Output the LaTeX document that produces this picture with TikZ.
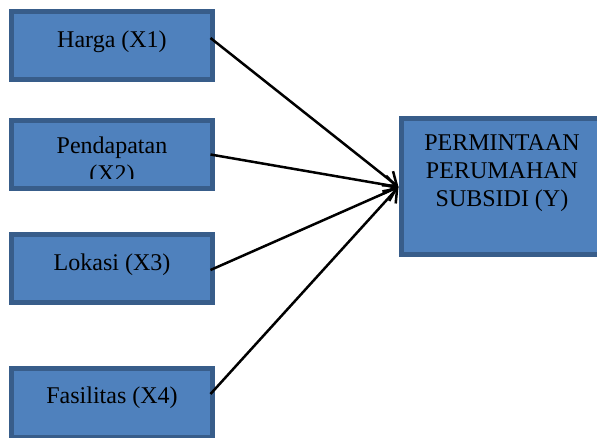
\documentclass[tikz,border=0pt]{standalone}
\usepackage{fontspec}
\setmainfont{Liberation Serif}
\usetikzlibrary{arrows.meta,calc}
\definecolor{boxfill}{HTML}{4F81BD}
\definecolor{boxline}{HTML}{385D8A}
\begin{document}
\begin{tikzpicture}[x=1pt,y=-1pt,
  varbox/.style={rectangle,draw=boxline,fill=boxfill,line width=5pt,inner sep=0pt,outer sep=0pt},
  lbl/.style={font=\fontsize{24}{28}\selectfont,inner sep=0pt,anchor=base,align=center},
  conn/.style={line width=2.5pt,-{Straight Barb[length=12pt,width=18pt,line width=2.5pt]}}]
\useasboundingbox (0,0) rectangle (597,437);
\clip (0,0) rectangle (597,437);
% boxes
\node[varbox,minimum width=201pt,minimum height=68pt] (b1) at (112,45.5) {};
\node[varbox,minimum width=201pt,minimum height=68pt] (b2) at (112,154.5) {};
\node[varbox,minimum width=201pt,minimum height=68pt] (b3) at (112,268.5) {};
\node[varbox,minimum width=201pt,minimum height=69pt] (b4) at (112,403) {};
\node[varbox,minimum width=201pt,minimum height=136pt] (y) at (502,186.5) {};
% texts
\node[lbl] (t1) at (112,47) {Harga (X1)};
\begin{scope}
\clip (14,118) rectangle (210,178);
\node[lbl,anchor=north] (t2) at (112,137) {Pendapatan\\(X2)};
\end{scope}
\node[lbl] (t3) at (112,270) {Lokasi (X3)};
\node[lbl] (t4) at (112,403) {Fasilitas (X4)};
\node[lbl,anchor=north] (ty) at (502,134) {PERMINTAAN\\PERUMAHAN\\SUBSIDI (Y)};
% connectors
\coordinate (s1) at ($(b1.east)+(-2,-7.5)$);
\coordinate (s2) at ($(b2.east)+(-2,0)$);
\coordinate (s3) at ($(b3.east)+(-2,1.5)$);
\coordinate (s4) at ($(b4.east)+(-2,-9)$);
\coordinate (tip) at ($(y.west)+(-3,0.5)$);
\draw[conn] (s1) -- (tip);
\draw[conn] (s2) -- (tip);
\draw[conn] (s3) -- (tip);
\draw[conn] (s4) -- (tip);
\end{tikzpicture}
\end{document}
